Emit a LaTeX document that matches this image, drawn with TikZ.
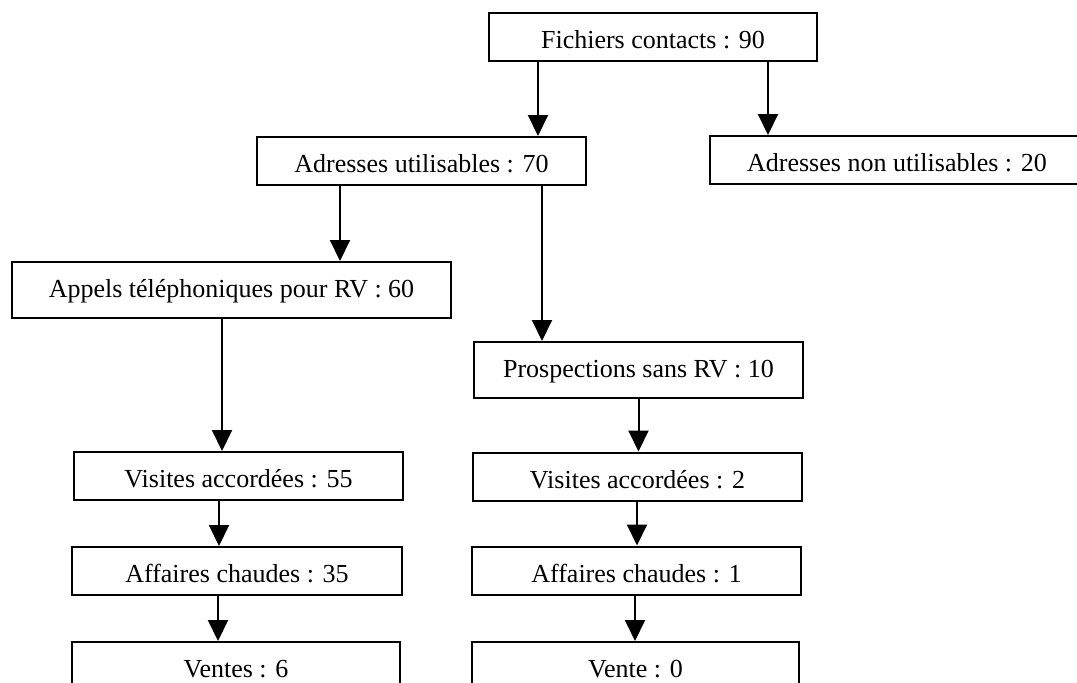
\documentclass[tikz,border=0pt]{standalone}
\usepackage{fontspec}
\setmainfont{Liberation Serif}
\usetikzlibrary{arrows.meta}
\begin{document}
\begin{tikzpicture}[x=1pt,y=-1pt,
  box/.style={draw, line width=2pt, inner sep=0pt, minimum height=48pt,
    text height=25pt, text depth=2pt, font=\fontsize{26}{30}\selectfont},
  tallbox/.style={box, minimum height=56pt, text height=20pt, text depth=5pt},
  arr/.style={line width=2pt, -{Triangle[width=20pt,length=21pt]}}]
\useasboundingbox (0,0) rectangle (1077,683);
\clip (0,0) rectangle (1077,683);
\node[box, minimum width=328pt] (fich) at (653,36.5) {Fichiers contacts : 90};
\node[box, minimum width=329pt] (adu) at (421.5,161) {Adresses utilisables : 70};
\node[box, minimum width=375pt] (anu) at (897,160) {Adresses non utilisables : 20};
\node[tallbox, minimum width=439pt] (app) at (231.5,290) {Appels téléphoniques pour RV : 60};
\node[tallbox, minimum width=329pt] (pro) at (638.5,370) {Prospections sans RV : 10};
\node[box, minimum width=329pt] (vis1) at (238.5,476) {Visites accordées : 55};
\node[box, minimum width=330pt] (aff1) at (237,571) {Affaires chaudes : 35};
\node[box, minimum width=328pt] (ven1) at (236,666) {Ventes : 6};
\node[box, minimum width=329pt] (vis2) at (637.5,476.5) {Visites accordées : 2};
\node[box, minimum width=329pt] (aff2) at (636.5,570.5) {Affaires chaudes : 1};
\node[box, minimum width=327pt] (ven2) at (635.5,666) {Vente : 0};
\path ([xshift=-115pt]fich.south) coordinate (c1)
      ([xshift=115pt]fich.south) coordinate (c2)
      ([xshift=-81.5pt]adu.south) coordinate (c3)
      ([xshift=120.5pt]adu.south) coordinate (c4)
      ([xshift=-9.5pt]app.south) coordinate (c5)
      ([xshift=-19.5pt]vis1.south) coordinate (c6)
      ([xshift=-19pt]aff1.south) coordinate (c7)
      ([xshift=0pt]pro.south) coordinate (c8)
      ([xshift=-0.5pt]vis2.south) coordinate (c9)
      ([xshift=-1.5pt]aff2.south) coordinate (c10);
\draw[arr] (c1) -- (c1 |- adu.north);
\draw[arr] (c2) -- (c2 |- anu.north);
\draw[arr] (c3) -- (c3 |- app.north);
\draw[arr] (c4) -- (c4 |- pro.north);
\draw[arr] (c5) -- (c5 |- vis1.north);
\draw[arr] (c6) -- (c6 |- aff1.north);
\draw[arr] (c7) -- (c7 |- ven1.north);
\draw[arr] (c8) -- (c8 |- vis2.north);
\draw[arr] (c9) -- (c9 |- aff2.north);
\draw[arr] (c10) -- (c10 |- ven2.north);
\end{tikzpicture}
\end{document}
